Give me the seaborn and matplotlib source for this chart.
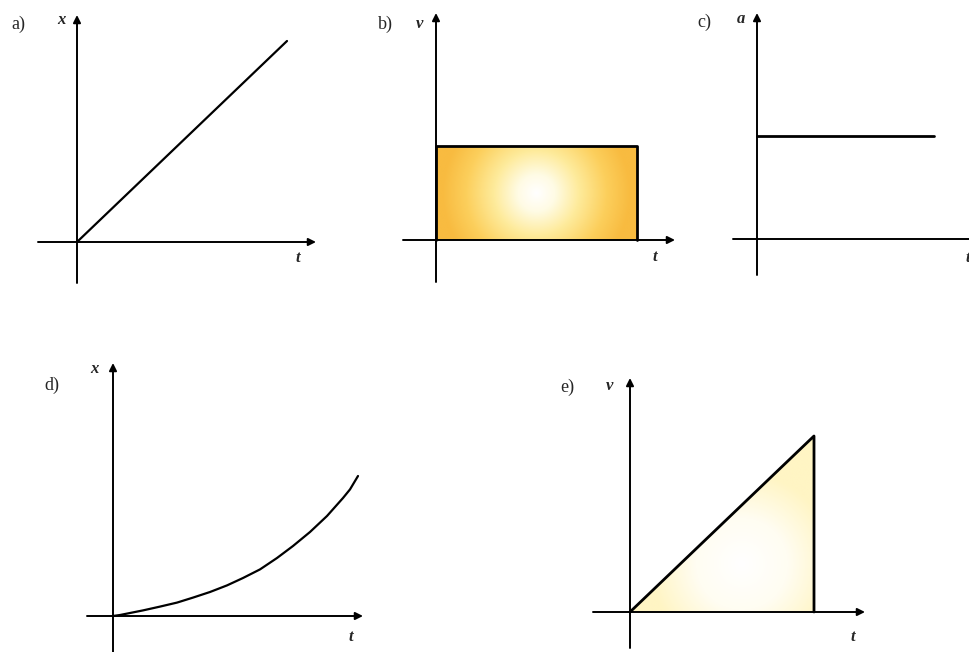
import numpy as np
import matplotlib.pyplot as plt
import seaborn as sns
from matplotlib.colors import LinearSegmentedColormap

sns.set_style("white")

W, H = 969, 652
PX = 20.0  # pixels per data unit, same in every panel

# a) x-t, uniform motion
a_t = [0, 10.5]
a_x = [0, 10.05]
# b) v-t, constant velocity
b_t = [0, 10.05]
b_v = 4.7
# c) a-t, constant acceleration
c_t = [0, 8.85]
c_a = 5.15
# d) x-t, accelerated motion
d_t = [0, 0.35, 1.5, 2.35, 3.2, 4.0, 4.85, 5.7, 6.5, 7.35, 8.2, 9.0,
       9.85, 10.7, 11.1, 11.5, 11.85, 12.25]
d_x = [0, 0.05, 0.28, 0.47, 0.67, 0.92, 1.2, 1.53, 1.9, 2.33, 2.9, 3.5,
       4.2, 5.0, 5.45, 5.9, 6.33, 7.0]
# e) v-t, uniformly accelerated
e_t = [0, 9.2]
e_v = [0, 8.8]

fig = plt.figure(figsize=(W / 100, H / 100), dpi=100)
fig.patch.set_facecolor('white')


def panel(origin, left, right, down, up):
    ox, oy = origin
    ax = fig.add_axes([(ox - left) / W, 1 - (oy + down) / H,
                       (left + right) / W, (down + up) / H])
    ax.set_xlim(-left / PX, right / PX)
    ax.set_ylim(-down / PX, up / PX)
    ax.set_autoscale_on(False)
    ax.axis('off')
    arrow = dict(arrowstyle='-|>', color='black', lw=1.4, mutation_scale=11,
                 shrinkA=0, shrinkB=0)
    ax.annotate('', xy=(right / PX, 0), xytext=(-left / PX, 0),
                arrowprops=arrow, annotation_clip=False)
    ax.annotate('', xy=(0, up / PX), xytext=(0, -down / PX),
                arrowprops=arrow, annotation_clip=False)
    return ax


def label(x, y, s, kind='tag'):
    if kind == 'tag':
        fig.text(x / W, 1 - y / H, s, fontsize=13, family='Liberation Serif',
                 ha='center', va='center')
    else:
        fig.text(x / W, 1 - y / H, s, fontsize=12, family='Liberation Serif',
                 style='italic', weight='bold', ha='center', va='center')


# a)
ax = panel((77, 242), 39, 239, 41, 227)
sns.lineplot(x=a_t, y=a_x, ax=ax, color='black', lw=1.6)
label(18, 24, 'a)')
label(61, 20, 'x', 'var')
label(298, 258, 't', 'var')

# b)
ax = panel((436, 240), 33, 239, 42, 227)
orange = LinearSegmentedColormap.from_list(
    'orange', [(0, 'white'), (0.2, '#fffbe4'), (0.45, '#feeb9c'),
               (0.75, '#fccf5c'), (1, '#f8bb40')])
tt, vv = np.meshgrid(np.linspace(0, b_t[1], 300), np.linspace(0, b_v, 150))
r = np.clip(np.hypot(tt - b_t[1] / 2, vv - b_v / 2) / 4.7, 0, 1)
ax.imshow(r, extent=[0, b_t[1], 0, b_v], origin='lower', cmap=orange,
          vmin=0, vmax=1, aspect='auto', interpolation='bilinear', zorder=1)
ax.plot([0, 0, b_t[1], b_t[1]], [0, b_v, b_v, 0], color='black', lw=2.0,
        zorder=3)
label(385, 24, 'b)')
label(420, 24, 'v', 'var')
label(655, 257, 't', 'var')

# c)
ax = panel((757, 239), 24, 232, 36, 226)
sns.lineplot(x=c_t, y=[c_a, c_a], ax=ax, color='black', lw=2.0)
label(704, 22, 'c)')
label(741, 19, 'a', 'var')
label(968, 258, 't', 'var')

# d)
ax = panel((113, 616), 26, 250, 36, 253)
sns.lineplot(x=d_t, y=d_x, ax=ax, color='black', lw=1.6)
label(52, 385, 'd)')
label(94, 369, 'x', 'var')
label(351, 637, 't', 'var')

# e)
ax = panel((630, 612), 37, 235, 36, 234)
yellow = LinearSegmentedColormap.from_list(
    'yellow', [(0, 'white'), (0.5, '#fffdf2'), (1, '#fff5c4')])
tt, vv = np.meshgrid(np.linspace(0, e_t[1], 300), np.linspace(0, e_v[1], 300))
r = np.clip(np.hypot(tt - 5.6, vv - 2.4) / 4.6, 0, 1)
im = ax.imshow(r, extent=[0, e_t[1], 0, e_v[1]], origin='lower', cmap=yellow,
               vmin=0, vmax=1, aspect='auto', interpolation='bilinear', zorder=1)
tri = ax.fill([0, e_t[1], e_t[1]], [0, e_v[1], 0], facecolor='none',
              edgecolor='none')[0]
im.set_clip_path(tri)
ax.plot([0, e_t[1], e_t[1]], [0, e_v[1], 0], color='black', lw=2.0, zorder=3)
label(567, 387, 'e)')
label(610, 386, 'v', 'var')
label(853, 637, 't', 'var')

plt.savefig('out.png', dpi=100)
